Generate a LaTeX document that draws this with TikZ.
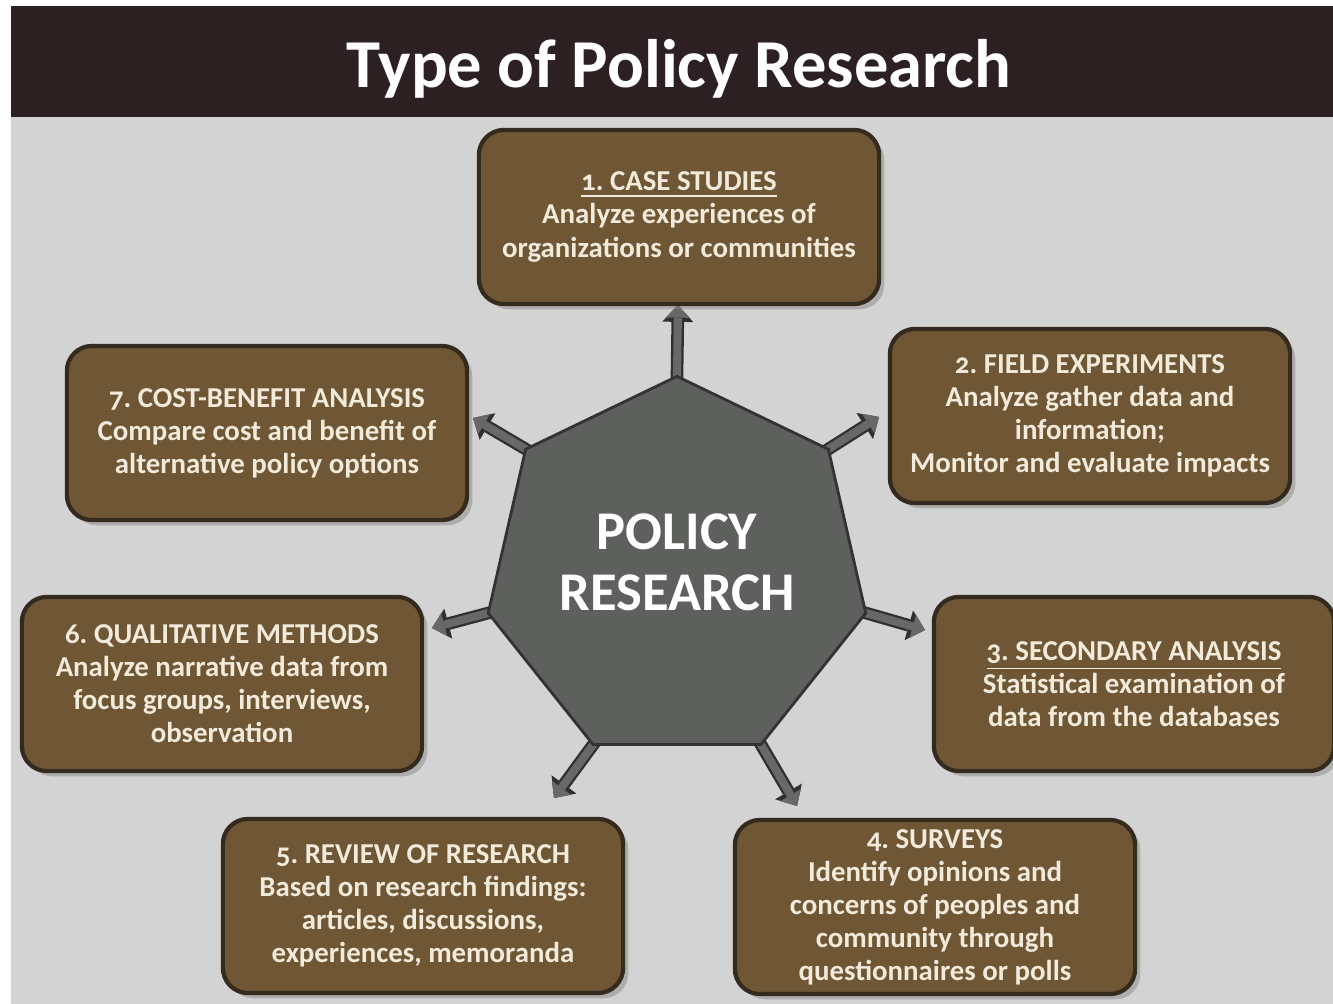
\documentclass[tikz,border=0pt]{standalone}
\usepackage{fontspec}
\setmainfont{Carlito}[Numbers=OldStyle]
\usepackage{tikz}
\usetikzlibrary{shapes.geometric,arrows.meta,shadows,backgrounds}
\usepackage{xcolor}
\frenchspacing

\definecolor{barbrown}{RGB}{44,32,34}
\definecolor{paper}{RGB}{211,211,211}
\definecolor{boxbrown}{RGB}{111,87,53}
\definecolor{boxedge}{RGB}{52,42,30}
\definecolor{boxtext}{RGB}{242,234,218}
\definecolor{hubgrey}{RGB}{94,96,93}
\definecolor{arrowgrey}{RGB}{104,104,104}
\definecolor{arrowedge}{RGB}{48,48,48}

\tikzset{
  kind/.style={draw=boxedge, line width=1.2pt, fill=boxbrown, rounded corners=0.25cm,
    minimum width=4cm, minimum height=1.74cm, inner sep=2pt, align=center,
    text=boxtext, font=\bfseries\fontsize{8.2}{9.4}\selectfont,
    drop shadow={shadow xshift=1.5pt, shadow yshift=-1.5pt, opacity=0.45}},
  hub/.style={regular polygon, regular polygon sides=7, minimum size=3.87cm, inner sep=0pt,
    draw=black!80, line width=0.8pt, fill=hubgrey, text=white, align=center,
    text depth=4.5pt, font=\bfseries\fontsize{15.5}{17.6}\selectfont},
  outarrow/.style={line width=2.3pt, draw=arrowgrey, shorten <=-4pt,
    -{Triangle[width=6.8pt,length=3.6pt,line width=0pt]},
    preaction={draw=arrowedge, line width=3.6pt, -{Triangle[width=8.8pt,length=4.8pt,line width=0pt]}}}
}

\begin{document}
\begin{tikzpicture}[x=0.01cm, y=-0.01cm]

    \useasboundingbox (0,0) rectangle (1333,1004);

    % paper and title bar go on the background layer, under the arrows
    \begin{scope}[on background layer]
        \fill[white] (0,0) rectangle (1333,1004);
        \fill[paper] (11,117) rectangle (1333,1004);
        \fill[barbrown] (11,6) rectangle (1333,117);
    \end{scope}

    \node[anchor=base, text=white, font=\bfseries\fontsize{19.5}{22}\selectfont] (title) at (679,88) {Type of Policy Research};

    % centre hub
    \node[hub] (hub) at (677,570) {POLICY\\RESEARCH};

    % the seven kinds of policy research
    \node[kind] (case) at (679,217) {\underline{1. CASE STUDIES}\\Analyze experiences of\\organizations or communities};
    \node[kind] (field) at (1090,416) {2. FIELD EXPERIMENTS\\Analyze gather data and\\information;\\Monitor and evaluate impacts};
    \node[kind] (second) at (1134,684) {\underline{3. SECONDARY ANALYSIS}\\Statistical examination of\\data from the databases};
    \node[kind] (survey) at (935,907) {4. SURVEYS\\Identify opinions and\\concerns of peoples and\\community through\\questionnaires or polls};
    \node[kind] (review) at (423,906) {5. REVIEW OF RESEARCH\\Based on research findings:\\articles, discussions,\\experiences, memoranda};
    \node[kind] (qual) at (222,684) {6. QUALITATIVE METHODS\\Analyze narrative data from\\focus groups, interviews,\\observation};
    \node[kind] (cost) at (267,433) {7. COST-BENEFIT ANALYSIS\\Compare cost and benefit of\\alternative policy options};

    % arrow tips, just short of each box
    \coordinate (tcase) at (678,305);
    \coordinate (tfield) at (879,417);
    \coordinate (tsecond) at (925,630);
    \coordinate (tsurvey) at (797,806);
    \coordinate (treview) at (554,798);
    \coordinate (tqual) at (432,628);
    \coordinate (tcost) at (473,418);

    % arrows leave the hub corners from underneath
    \begin{scope}[on background layer]
        \foreach \c/\t in {1/tcase, 7/tfield, 6/tsecond, 5/tsurvey, 4/treview, 3/tqual, 2/tcost}
            \draw[outarrow] (hub.corner \c) -- (\t);
    \end{scope}

\end{tikzpicture}
\end{document}
